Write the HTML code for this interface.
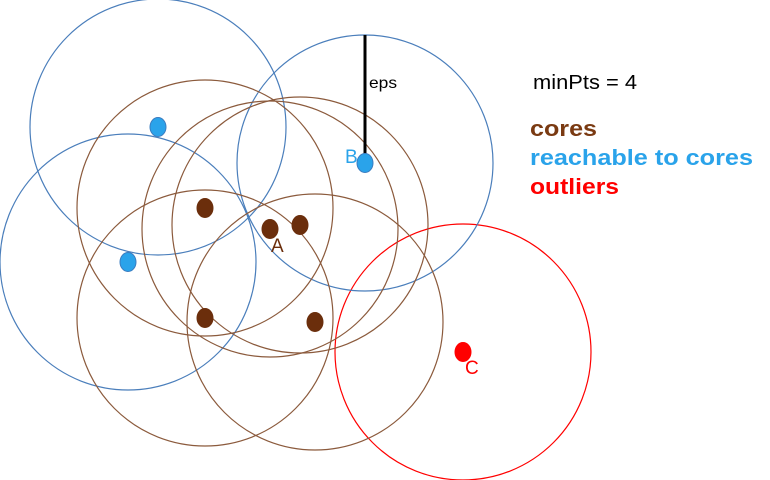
<!DOCTYPE html>
<html><head><meta charset="utf-8">
<style>
html,body{margin:0;padding:0;background:#fff;}
svg{display:block;font-family:"Liberation Sans",sans-serif;}
</style></head>
<body>
<svg id="chart" width="770" height="480" viewBox="0 0 770 480">
<line x1="365" y1="35" x2="365" y2="163" stroke="#000" stroke-width="3"/>
<text x="369" y="88" font-size="16" fill="#000" textLength="28" lengthAdjust="spacingAndGlyphs">eps</text>
<text x="533" y="89" font-size="20" fill="#000" textLength="104" lengthAdjust="spacingAndGlyphs">minPts = 4</text>
<text x="530" y="136" font-size="22" font-weight="bold" fill="#7a3a12" textLength="67" lengthAdjust="spacingAndGlyphs">cores</text>
<text x="530" y="165" font-size="22" font-weight="bold" fill="#2aa3ea" textLength="223" lengthAdjust="spacingAndGlyphs">reachable to cores</text>
<text x="530" y="194" font-size="22" font-weight="bold" fill="#f00" textLength="89" lengthAdjust="spacingAndGlyphs">outliers</text>
</svg>
<script>
const coreX=[205,270,300,205,315];
const coreY=[208,229,225,318,322];
const reachX=[158,365,128];
const reachY=[127,163,262];
const outX=[463];
const outY=[352];
const eps=128;
const svg=document.getElementById('chart');
const NS='http://www.w3.org/2000/svg';
function circ(x,y,col,name){
  const c=document.createElementNS(NS,'circle');
  c.setAttribute('cx',x);c.setAttribute('cy',y);c.setAttribute('r',eps);
  c.setAttribute('fill','none');c.setAttribute('stroke',col);c.setAttribute('stroke-width','1.2');
  
  
  svg.insertBefore(c,svg.firstChild);
}
function pt(x,y,col,name){
  const e=document.createElementNS(NS,'ellipse');
  e.setAttribute('cx',x);e.setAttribute('cy',y);e.setAttribute('rx',8);e.setAttribute('ry',9.5);
  e.setAttribute('fill',col);e.setAttribute('stroke',col==='#2aa3ea'?'#3a7cc0':col);
  
  
  svg.appendChild(e);
}
coreX.forEach((x,i)=>circ(x,coreY[i],'#8b5a3c','core-eps-circle'));
reachX.forEach((x,i)=>circ(x,reachY[i],'#4a7ebb','reachable-eps-circle'));
outX.forEach((x,i)=>circ(x,outY[i],'#f00','outlier-eps-circle'));
coreX.forEach((x,i)=>pt(x,coreY[i],'#6b2e0c','core-point'));
reachX.forEach((x,i)=>pt(x,reachY[i],'#2aa3ea','reachable-point'));
outX.forEach((x,i)=>pt(x,outY[i],'#f00','outlier-point'));
function lbl(t,x,y,col,name){
  const e=document.createElementNS(NS,'text');
  e.setAttribute('x',x);e.setAttribute('y',y);e.setAttribute('font-size','19');e.setAttribute('fill',col);
  e.textContent=t;
  
  
  svg.appendChild(e);
}
lbl('A',271,252,'#6b2e0c','label-a');
lbl('B',345,163,'#2aa3ea','label-b');
lbl('C',465,374,'#f00','label-c');
</script>
</body></html>
